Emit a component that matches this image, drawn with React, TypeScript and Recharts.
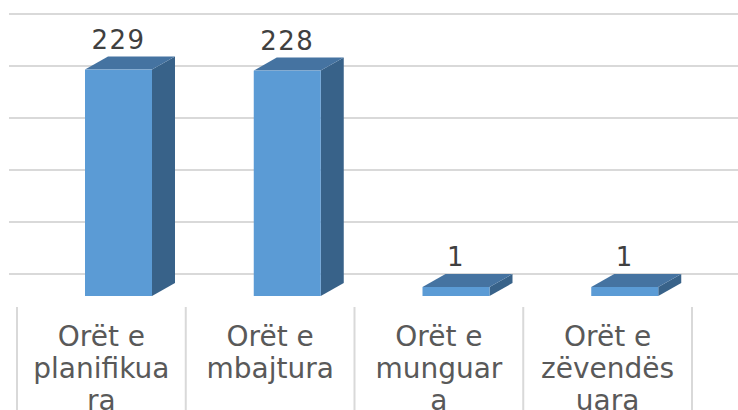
import React from 'react';
import { BarChart, Bar, XAxis, YAxis, CartesianGrid, LabelList } from 'recharts';

// kategoritë dhe vlerat
const categories = ['Orët e planifikuara', 'Orët e mbajtura', 'Orët e munguara', 'Orët e zëvendësuara'];
const hours = [229, 228, 1, 1];
// etiketat e boshtit, të ndara në rreshta si në origjinal
const tickLines = [
  ['Orët e', 'planifikua', 'ra'],
  ['Orët e', 'mbajtura'],
  ['Orët e', 'munguar', 'a'],
  ['Orët e', 'zëvendës', 'uara'],
];
const gridTicks = [0, 50, 100, 150, 200, 250];

const data = categories.map((name, i) => ({ name, value: hours[i], lines: tickLines[i] }));

const W = 738;
const H = 410;
const MARGIN = { top: 14, right: 0, left: 9, bottom: 0 };
const PAD = { left: 8, right: 46 };
const BAND = (W - MARGIN.left - MARGIN.right - PAD.left - PAD.right) / categories.length;

// pamja 3D
const DEPTH_X = 23;
const DEPTH_Y = 13;
const SHIFT_X = 17;
const DROP = 22;
const FRONT = '#5B9BD5';
const TOP = '#4573A1';
const SIDE = '#386289';
const GRID = '#d9d9d9';
const FONT = '"DejaVu Sans", sans-serif';

const Bar3D = (props: any) => {
  const { x, y, width, height } = props;
  const fx = x + SHIFT_X;
  const fy = y + DROP;
  const top = `${fx},${fy} ${fx + DEPTH_X},${fy - DEPTH_Y} ${fx + width + DEPTH_X},${fy - DEPTH_Y} ${fx + width},${fy}`;
  const side = `${fx + width},${fy} ${fx + width + DEPTH_X},${fy - DEPTH_Y} ${fx + width + DEPTH_X},${fy + height - DEPTH_Y} ${fx + width},${fy + height}`;
  return (
    <g>
      <polygon points={side} fill={SIDE} />
      <polygon points={top} fill={TOP} />
      <rect x={fx} y={fy} width={width} height={height} fill={FRONT} />
    </g>
  );
};

const ValueLabel = (props: any) => {
  const { x, y, width, value } = props;
  return (
    <text
      x={x + SHIFT_X + width / 2}
      y={y + DROP - 21}
      textAnchor="middle"
      fill="#404040"
      fontSize={26}
      fontFamily={FONT}
      letterSpacing={1.5}
    >
      {value}
    </text>
  );
};

const CategoryTick = (props: any) => {
  const { x, y, index } = props;
  const lines: string[] = data[index].lines;
  const left = x - BAND / 2;
  const right = x + BAND / 2;
  return (
    <g>
      <line x1={left} x2={left} y1={y + 25} y2={H} stroke={GRID} strokeWidth={2} />
      {index === categories.length - 1 && (
        <line x1={right} x2={right} y1={y + 25} y2={H} stroke={GRID} strokeWidth={2} />
      )}
      {lines.map((line, i) => (
        <text
          key={i}
          x={x}
          y={y + 64 + i * 32}
          textAnchor="middle"
          fill="#595959"
          fontSize={28}
          fontFamily={FONT}
        >
          {line}
        </text>
      ))}
    </g>
  );
};

export default function App() {
  return (
    <div style={{ position: 'absolute', left: 0, top: 0, width: W, height: H, background: '#fff' }}>
      <BarChart width={W} height={H} data={data} margin={MARGIN} barSize={67}>
        <CartesianGrid vertical={false} yAxisId="g" stroke={GRID} strokeWidth={2} />
        <XAxis
          dataKey="name"
          axisLine={false}
          tickLine={false}
          height={136}
          padding={PAD}
          interval={0}
          tick={<CategoryTick />}
        />
        <YAxis yAxisId="g" hide allowDataOverflow domain={[0, 250]} ticks={gridTicks} />
        <YAxis yAxisId="v" hide domain={[0, 263]} />
        <Bar
          yAxisId="v"
          dataKey="value"
          minPointSize={9}
          shape={<Bar3D />}
          isAnimationActive={false}
        >
          <LabelList dataKey="value" content={<ValueLabel />} />
        </Bar>
      </BarChart>
    </div>
  );
}
